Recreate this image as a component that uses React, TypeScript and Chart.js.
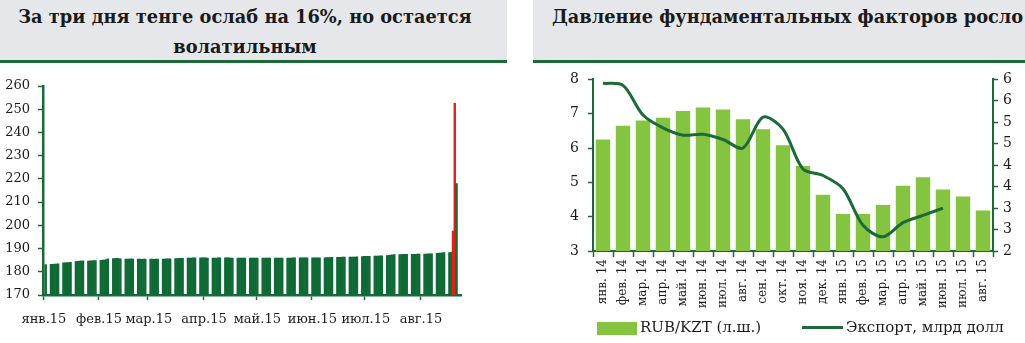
import React, { useEffect, useRef } from 'react';
import { Chart, registerables } from 'chart.js';

Chart.register(...registerables);

// ---------- Left chart: KZT per USD, daily 2015 (null = non-trading day) ----------
const monthTickLabels = ['янв.15', 'фев.15', 'мар.15', 'апр.15', 'май.15', 'июн.15', 'июл.15', 'авг.15'];

const jan15 = [null, 183.1, null, null, 183.2, 183.2, 183.3, 183.3, 183.4, null, null, 183.8, 183.9, 184.0, 184.0, 184.1, null, null, 184.4, 184.5, 184.6, 184.6, 184.7, null, null, 184.6, 184.7, 184.7, 184.8, 184.8, null];
const feb15 = [null, 184.9, 185.0, 185.0, 185.2, 185.6, null, null, 185.7, 185.7, 185.8, 185.7, 185.6, null, null, 185.5, 185.5, 185.5, 185.6, 185.5, null, null, 185.5, 185.5, 185.4, 185.5, 185.5, null];
const mar15 = [null, 185.5, 185.5, 185.4, 185.5, 185.5, null, null, 185.5, 185.5, 185.6, 185.6, 185.6, null, null, 185.7, 185.7, 185.8, 185.8, 185.8, null, null, 185.9, 185.9, 185.9, 186.0, 186.0, null, null, 186.0, 186.0];
const apr15 = [186.0, 186.0, 185.9, null, null, 185.9, 185.9, 185.9, 186.0, 186.0, null, null, 186.0, 186.0, 186.0, 185.9, 185.9, null, null, 185.9, 185.9, 185.9, 185.9, 185.9, null, null, 185.9, 185.9, 185.9, 185.9];
const may15 = [185.9, null, null, 185.9, 185.9, 185.9, 185.9, 185.9, null, null, 185.9, 185.9, 185.9, 185.9, 185.9, null, null, 185.9, 185.9, 185.9, 186.0, 186.0, null, null, 186.0, 186.0, 186.0, 186.0, 186.0, null, null];
const jun15 = [186.0, 186.0, 186.0, 186.0, 186.0, null, null, 186.0, 186.1, 186.1, 186.1, 186.2, null, null, 186.2, 186.2, 186.2, 186.3, 186.3, null, null, 186.3, 186.3, 186.3, 186.3, 186.4, null, null, 186.5, 186.6];
const jul15 = [186.6, 186.7, 186.7, null, null, 186.8, 186.8, 186.8, 186.9, 186.9, null, null, 187.0, 187.1, 187.2, 187.3, 187.4, null, null, 187.4, 187.4, 187.5, 187.5, 187.5, null, null, 187.5, 187.5, 187.5, 187.6, 187.6];
const aug15 = [null, null, 187.6, 187.6, 187.7, 187.7, 187.7, null, null, 187.9, 188.0, 188.1, 188.2, 188.3, null, null, 188.3, 188.4, 197.5, 252.5, 218.0, null, null];

const devaluationDays = ['2015-08-19', '2015-08-20'];

// ---------- Right chart: monthly ----------
const monthLabels = ['янв. 14', 'фев. 14', 'мар. 14', 'апр. 14', 'май. 14', 'июн. 14', 'июл. 14', 'авг. 14', 'сен. 14', 'окт. 14', 'ноя. 14', 'дек. 14', 'янв. 15', 'фев. 15', 'мар. 15', 'апр. 15', 'май. 15', 'июн. 15', 'июл. 15', 'авг. 15'];
const rubKzt = [6.25, 6.65, 6.8, 6.88, 7.08, 7.18, 7.12, 6.84, 6.55, 6.08, 5.48, 4.64, 4.08, 4.08, 4.34, 4.9, 5.15, 4.79, 4.59, 4.18];
const exportBln = [5.91, 5.86, 5.17, 4.87, 4.7, 4.72, 4.6, 4.4, 5.12, 4.84, 3.91, 3.76, 3.45, 2.6, 2.33, 2.66, 2.83, 3.0, null, null];

const leftTitle = 'За три дня тенге ослаб на 16%, но остается волатильным';
const rightTitle = 'Давление фундаментальных факторов росло';
const legendBar = 'RUB/KZT (л.ш.)';
const legendLine = 'Экспорт, млрд долл';

const FONT = '"DejaVu Serif", serif';
const AXIS_GREEN = '#1b6a37';
const BAR_GREEN = '#0f6a36';
const LIGHT_GREEN = '#84c441';
const RED = '#e2231a';
const TEXT = '#1c1c1c';

const monthArrays = [jan15, feb15, mar15, apr15, may15, jun15, jul15, aug15];
const dayLabels: string[] = [];
monthArrays.forEach((arr, m) => {
  arr.forEach((_, d) => {
    dayLabels.push(`2015-${String(m + 1).padStart(2, '0')}-${String(d + 1).padStart(2, '0')}`);
  });
});
const dailyValues = ([] as (number | null)[]).concat(...monthArrays);

const isMonthStart = (i: number) => !!dayLabels[i] && dayLabels[i].endsWith('-01');

export default function App() {
  const leftRef = useRef<HTMLCanvasElement>(null);
  const rightRef = useRef<HTMLCanvasElement>(null);

  useEffect(() => {
    document.body.style.margin = '0';
    const left = new Chart(leftRef.current as HTMLCanvasElement, {
      type: 'bar',
      data: {
        labels: dayLabels,
        datasets: [
          {
            data: dailyValues,
            backgroundColor: (ctx: any) => (devaluationDays.includes(dayLabels[ctx.dataIndex]) ? RED : BAR_GREEN),
            barPercentage: 1,
            categoryPercentage: 1,
            borderWidth: 0,
          },
        ],
      },
      options: {
        animation: false,
        responsive: true,
        maintainAspectRatio: false,
        layout: { padding: { top: 22, right: 49, bottom: 0, left: 0 } },
        plugins: { legend: { display: false }, tooltip: { enabled: false } },
        scales: {
          x: {
            grid: {
              drawOnChartArea: false,
              drawTicks: true,
              tickLength: 5,
              tickWidth: 1.5,
              offset: true,
              tickColor: (ctx: any) => (isMonthStart(ctx.index) ? AXIS_GREEN : 'rgba(0,0,0,0)'),
            },
            border: { display: true, color: AXIS_GREEN, width: 2.5 },
            ticks: {
              autoSkip: false,
              maxRotation: 0,
              minRotation: 0,
              padding: 12,
              color: TEXT,
              font: { family: FONT, size: 13 },
              callback: (_v: any, i: number) => (isMonthStart(i) ? monthTickLabels[Number(dayLabels[i].slice(5, 7)) - 1] : ''),
            },
            afterFit: (s: any) => {
              s.height = 48;
            },
          },
          y: {
            min: 170,
            max: 260,
            ticks: { stepSize: 10, padding: 8, color: TEXT, font: { family: FONT, size: 13 } },
            grid: { drawOnChartArea: false, tickLength: 5, tickWidth: 1.5, tickColor: AXIS_GREEN },
            border: { display: true, color: AXIS_GREEN, width: 2.5 },
            afterFit: (s: any) => {
              s.width = 43;
            },
          },
        },
      },
    } as any);

    const right = new Chart(rightRef.current as HTMLCanvasElement, {
      type: 'bar',
      data: {
        labels: monthLabels,
        datasets: [
          {
            type: 'line',
            label: legendLine,
            data: exportBln,
            yAxisID: 'y2',
            borderColor: AXIS_GREEN,
            backgroundColor: AXIS_GREEN,
            borderWidth: 3,
            pointRadius: 0,
            tension: 0.3,
            order: 0,
          },
          {
            type: 'bar',
            label: legendBar,
            data: rubKzt,
            yAxisID: 'y',
            backgroundColor: LIGHT_GREEN,
            barPercentage: 0.72,
            categoryPercentage: 1,
            order: 1,
          },
        ],
      },
      options: {
        animation: false,
        responsive: true,
        maintainAspectRatio: false,
        layout: { padding: { top: 16, right: 0, bottom: 0, left: 0 } },
        plugins: { legend: { display: false }, tooltip: { enabled: false } },
        scales: {
          x: {
            grid: { drawOnChartArea: false, tickLength: 6, tickWidth: 1.5, tickColor: AXIS_GREEN, offset: true },
            border: { display: true, color: AXIS_GREEN, width: 2 },
            ticks: {
              autoSkip: false,
              minRotation: 90,
              maxRotation: 90,
              padding: 2,
              color: TEXT,
              font: { family: FONT, size: 12 },
            },
            afterFit: (s: any) => {
              s.height = 69;
            },
          },
          y: {
            position: 'left',
            min: 3,
            max: 8,
            ticks: { stepSize: 1, padding: 9, color: TEXT, font: { family: FONT, size: 14 } },
            grid: { drawOnChartArea: false, tickLength: 5, tickWidth: 1.5, tickColor: AXIS_GREEN },
            border: { display: true, color: AXIS_GREEN, width: 2 },
            afterFit: (s: any) => {
              s.width = 53;
            },
          },
          y2: {
            position: 'right',
            min: 2,
            max: 6,
            ticks: {
              stepSize: 0.5,
              padding: 5,
              color: TEXT,
              font: { family: FONT, size: 14 },
              callback: (v: any) => String(Math.round(Number(v))),
            },
            grid: { drawOnChartArea: false, tickLength: 5, tickWidth: 1.5, tickColor: AXIS_GREEN },
            border: { display: true, color: AXIS_GREEN, width: 2 },
            afterFit: (s: any) => {
              s.width = 32;
            },
          },
        },
      },
    } as any);

    return () => {
      left.destroy();
      right.destroy();
    };
  }, []);

  const panelBg = '#e5e7eb';
  const titleStyle: React.CSSProperties = {
    position: 'absolute',
    fontFamily: FONT,
    fontWeight: 'bold',
    fontSize: 17.8,
    lineHeight: '30px',
    color: '#1a1a1a',
    whiteSpace: 'nowrap',
  };

  return (
    <div style={{ position: 'fixed', left: 0, top: 0, width: 1025, height: 343, overflow: 'hidden', background: '#fff' }}>
      {/* left title panel */}
      <div style={{ position: 'absolute', left: 0, top: 0, width: 507, height: 60, background: panelBg }} />
      <div style={{ position: 'absolute', left: 0, top: 60, width: 507, height: 3, background: AXIS_GREEN }} />
      <div style={{ ...titleStyle, left: 0, top: 2, width: 490, textAlign: 'center', whiteSpace: 'normal' }}>
        {leftTitle}
      </div>
      {/* right title panel */}
      <div style={{ position: 'absolute', left: 533, top: 0, width: 492, height: 60, background: panelBg, overflow: 'hidden' }}>
        <div style={{ ...titleStyle, left: 19, top: 2 }}>{rightTitle}</div>
      </div>
      <div style={{ position: 'absolute', left: 533, top: 60, width: 492, height: 3, background: AXIS_GREEN }} />

      {/* left chart */}
      <div style={{ position: 'absolute', left: 0, top: 64, width: 510, height: 279 }}>
        <canvas ref={leftRef} />
      </div>

      {/* right chart */}
      <div style={{ position: 'absolute', left: 540, top: 62, width: 485, height: 258 }}>
        <canvas ref={rightRef} />
      </div>

      {/* right legend */}
      <div style={{ position: 'absolute', left: 597, top: 322, width: 40, height: 13, background: LIGHT_GREEN }} />
      <div style={{ position: 'absolute', left: 640, top: 318, fontFamily: FONT, fontSize: 15, color: TEXT, whiteSpace: 'nowrap' }}>
        {legendBar}
      </div>
      <div style={{ position: 'absolute', left: 802, top: 326, width: 41, height: 3, background: AXIS_GREEN }} />
      <div style={{ position: 'absolute', left: 846, top: 318, fontFamily: FONT, fontSize: 15, color: TEXT, whiteSpace: 'nowrap' }}>
        {legendLine}
      </div>
    </div>
  );
}
